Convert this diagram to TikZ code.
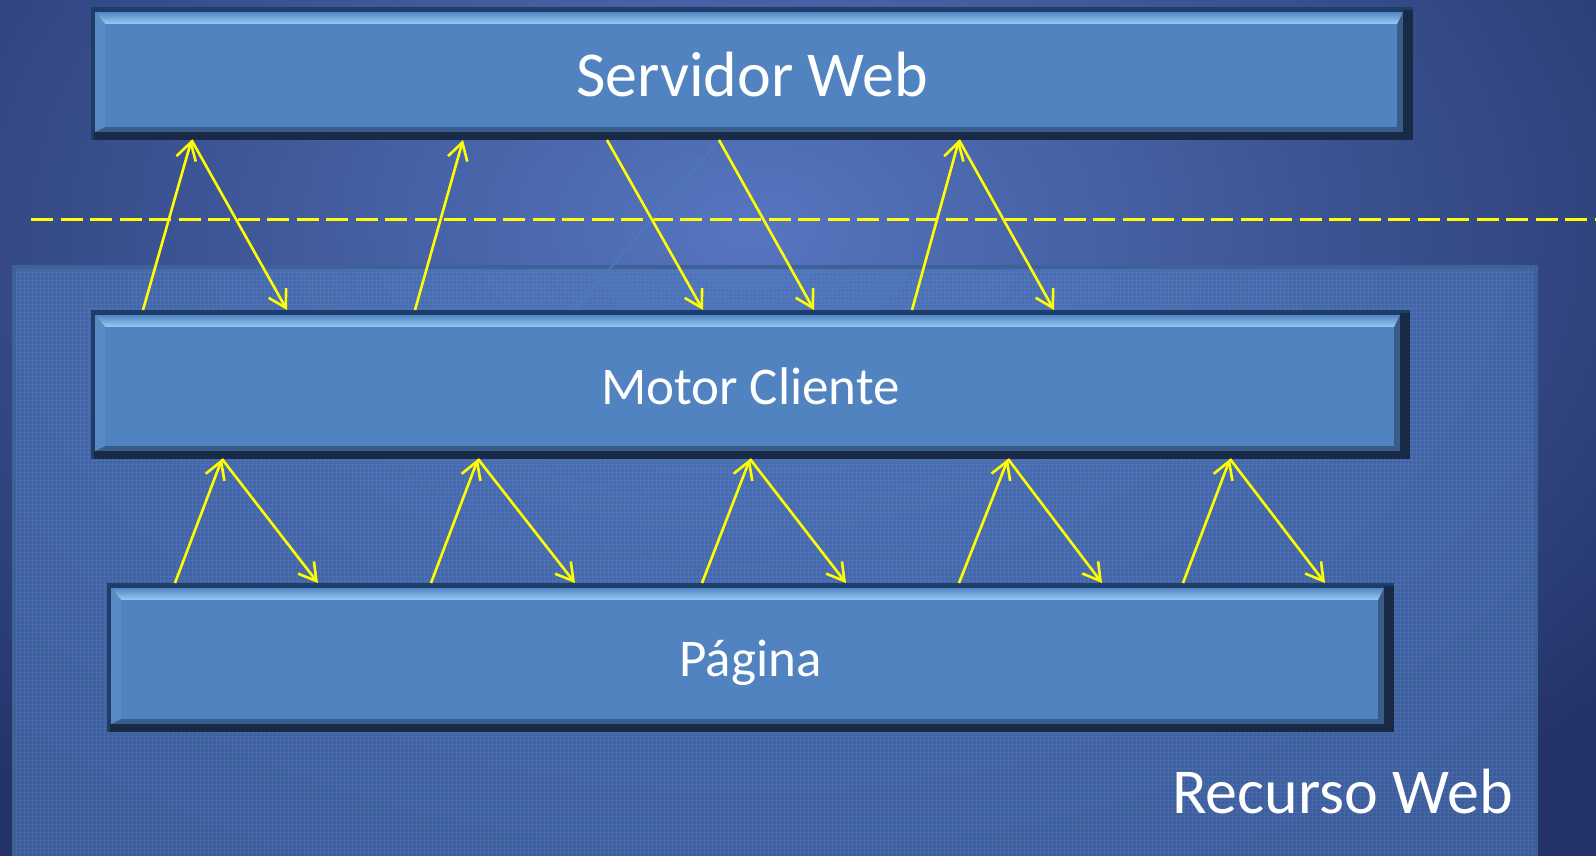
\documentclass[tikz,border=0pt]{standalone}
\usepackage{fontspec}
\setmainfont{Carlito}
\usetikzlibrary{arrows.meta}

\definecolor{bgin}{RGB}{86,118,192}
\definecolor{bgout}{RGB}{36,52,106}
\definecolor{panelfill}{RGB}{76,118,186}
\definecolor{paneledge}{RGB}{62,98,152}
\definecolor{panelgrid}{RGB}{100,140,205}
\definecolor{boxface}{RGB}{81,131,192}
\definecolor{boxedge}{RGB}{30,62,105}
\definecolor{boxdeep}{RGB}{24,42,70}
\definecolor{boxshade}{RGB}{58,92,138}
\definecolor{boxlit}{RGB}{150,205,245}
\definecolor{boxmid}{RGB}{82,134,196}
\definecolor{boxleft}{RGB}{88,138,198}
\definecolor{flowyellow}{RGB}{255,255,0}
\definecolor{ghostline}{RGB}{72,124,186}

%% bevelled layer box: x1 y1 x2 y2 (y runs down)
\newcommand\bevelbox[4]{%
  \fill[boxedge] (#1,#2) rectangle (#3,#4);
  \fill[boxdeep] (#3-10,#2+3) rectangle (#3,#4);
  \fill[boxdeep] (#1+3,#4-8) rectangle (#3,#4);
  \fill[boxshade] (#1+4,#2+5) rectangle (#3-10,#4-8);
  \shade[top color=boxmid,bottom color=boxlit] (#1+4,#2+5) -- (#3-10,#2+5) -- (#3-16,#2+17) -- (#1+14,#2+17) -- cycle;
  \fill[boxleft] (#1+4,#2+5) -- (#1+14,#2+17) -- (#1+14,#4-13) -- (#1+4,#4-8) -- cycle;
  \fill[boxface] (#1+14,#2+17) rectangle (#3-16,#4-13);
}

\begin{document}
\begin{tikzpicture}[x=1pt,y=-1pt,
    layer/.style={rectangle, inner sep=0pt, outer sep=0pt, text=white, text depth=0pt},
    flow/.style={flowyellow, line width=2.6pt, -{Straight Barb[length=17pt,width=20pt]}},
  ]
  \useasboundingbox (0,0) rectangle (1596,855);
  %% background glow
  \begin{scope}
    \clip (0,0) rectangle (1596,855);
    \shade[inner color=bgin, outer color=bgout] (-350,-500) rectangle (1850,960);
  \end{scope}
  %% recurso panel
  \fill[panelfill, fill opacity=0.6] (12,265) rectangle (1538,860);
  \draw[panelgrid, line width=0.6pt, opacity=0.25, step=4pt] (16,269) grid (1534,855);
  \draw[paneledge, line width=4pt] (14,860) -- (14,267) -- (1536,267) -- (1536,860);
  %% border line
  \draw[flowyellow, line width=3pt, dash pattern=on 22pt off 7.5pt] (31,219) -- (1596,219);
  %% layers
  \bevelbox{91}{7}{1413}{140}
  \bevelbox{91}{310}{1410}{459}
  \bevelbox{107}{583}{1394}{732}
  \node[layer, minimum width=1322pt, minimum height=133pt, text height=45pt, font=\fontsize{64}{70}\selectfont] (srv) at (752,73.5) {Servidor Web};
  \node[layer, minimum width=1319pt, minimum height=149pt, text height=40pt, font=\fontsize{53}{60}\selectfont] (motor) at (750.5,384.5) {Motor Cliente};
  \node[layer, minimum width=1287pt, minimum height=149pt, text height=38pt, font=\fontsize{53}{60}\selectfont] (pag) at (750.5,657.5) {Página};
  \node[text=white, inner sep=0pt, anchor=base east, font=\fontsize{64}{70}\selectfont] (recurso) at (1513,813) {Recurso Web};
  %% server <-> engine
  \draw[ghostline, line width=1.5pt] ([xshift=484pt]motor.north west) -- ([xshift=628pt]srv.south west);
  \draw[flow] ([xshift=52pt]motor.north west) -- ([xshift=100.5pt]srv.south west);
  \draw[flow] ([xshift=100.5pt]srv.south west) -- ([xshift=196pt]motor.north west);
  \draw[flow] ([xshift=324pt]motor.north west) -- ([xshift=372pt]srv.south west);
  \draw[flow] ([xshift=516pt]srv.south west) -- ([xshift=612pt]motor.north west);
  \draw[flow] ([xshift=628pt]srv.south west) -- ([xshift=723pt]motor.north west);
  \draw[flow] ([xshift=821pt]motor.north west) -- ([xshift=868pt]srv.south west);
  \draw[flow] ([xshift=868pt]srv.south west) -- ([xshift=963pt]motor.north west);
  %% engine <-> page
  \foreach \a/\t/\b in {68/131/211, 324/387/468, 595/659/739, 852/917/995, 1076/1139/1218} {
    \draw[flow] ([xshift=\a pt]pag.north west) -- ([xshift=\t pt]motor.south west);
    \draw[flow] ([xshift=\t pt]motor.south west) -- ([xshift=\b pt]pag.north west);
  }
\end{tikzpicture}
\end{document}
